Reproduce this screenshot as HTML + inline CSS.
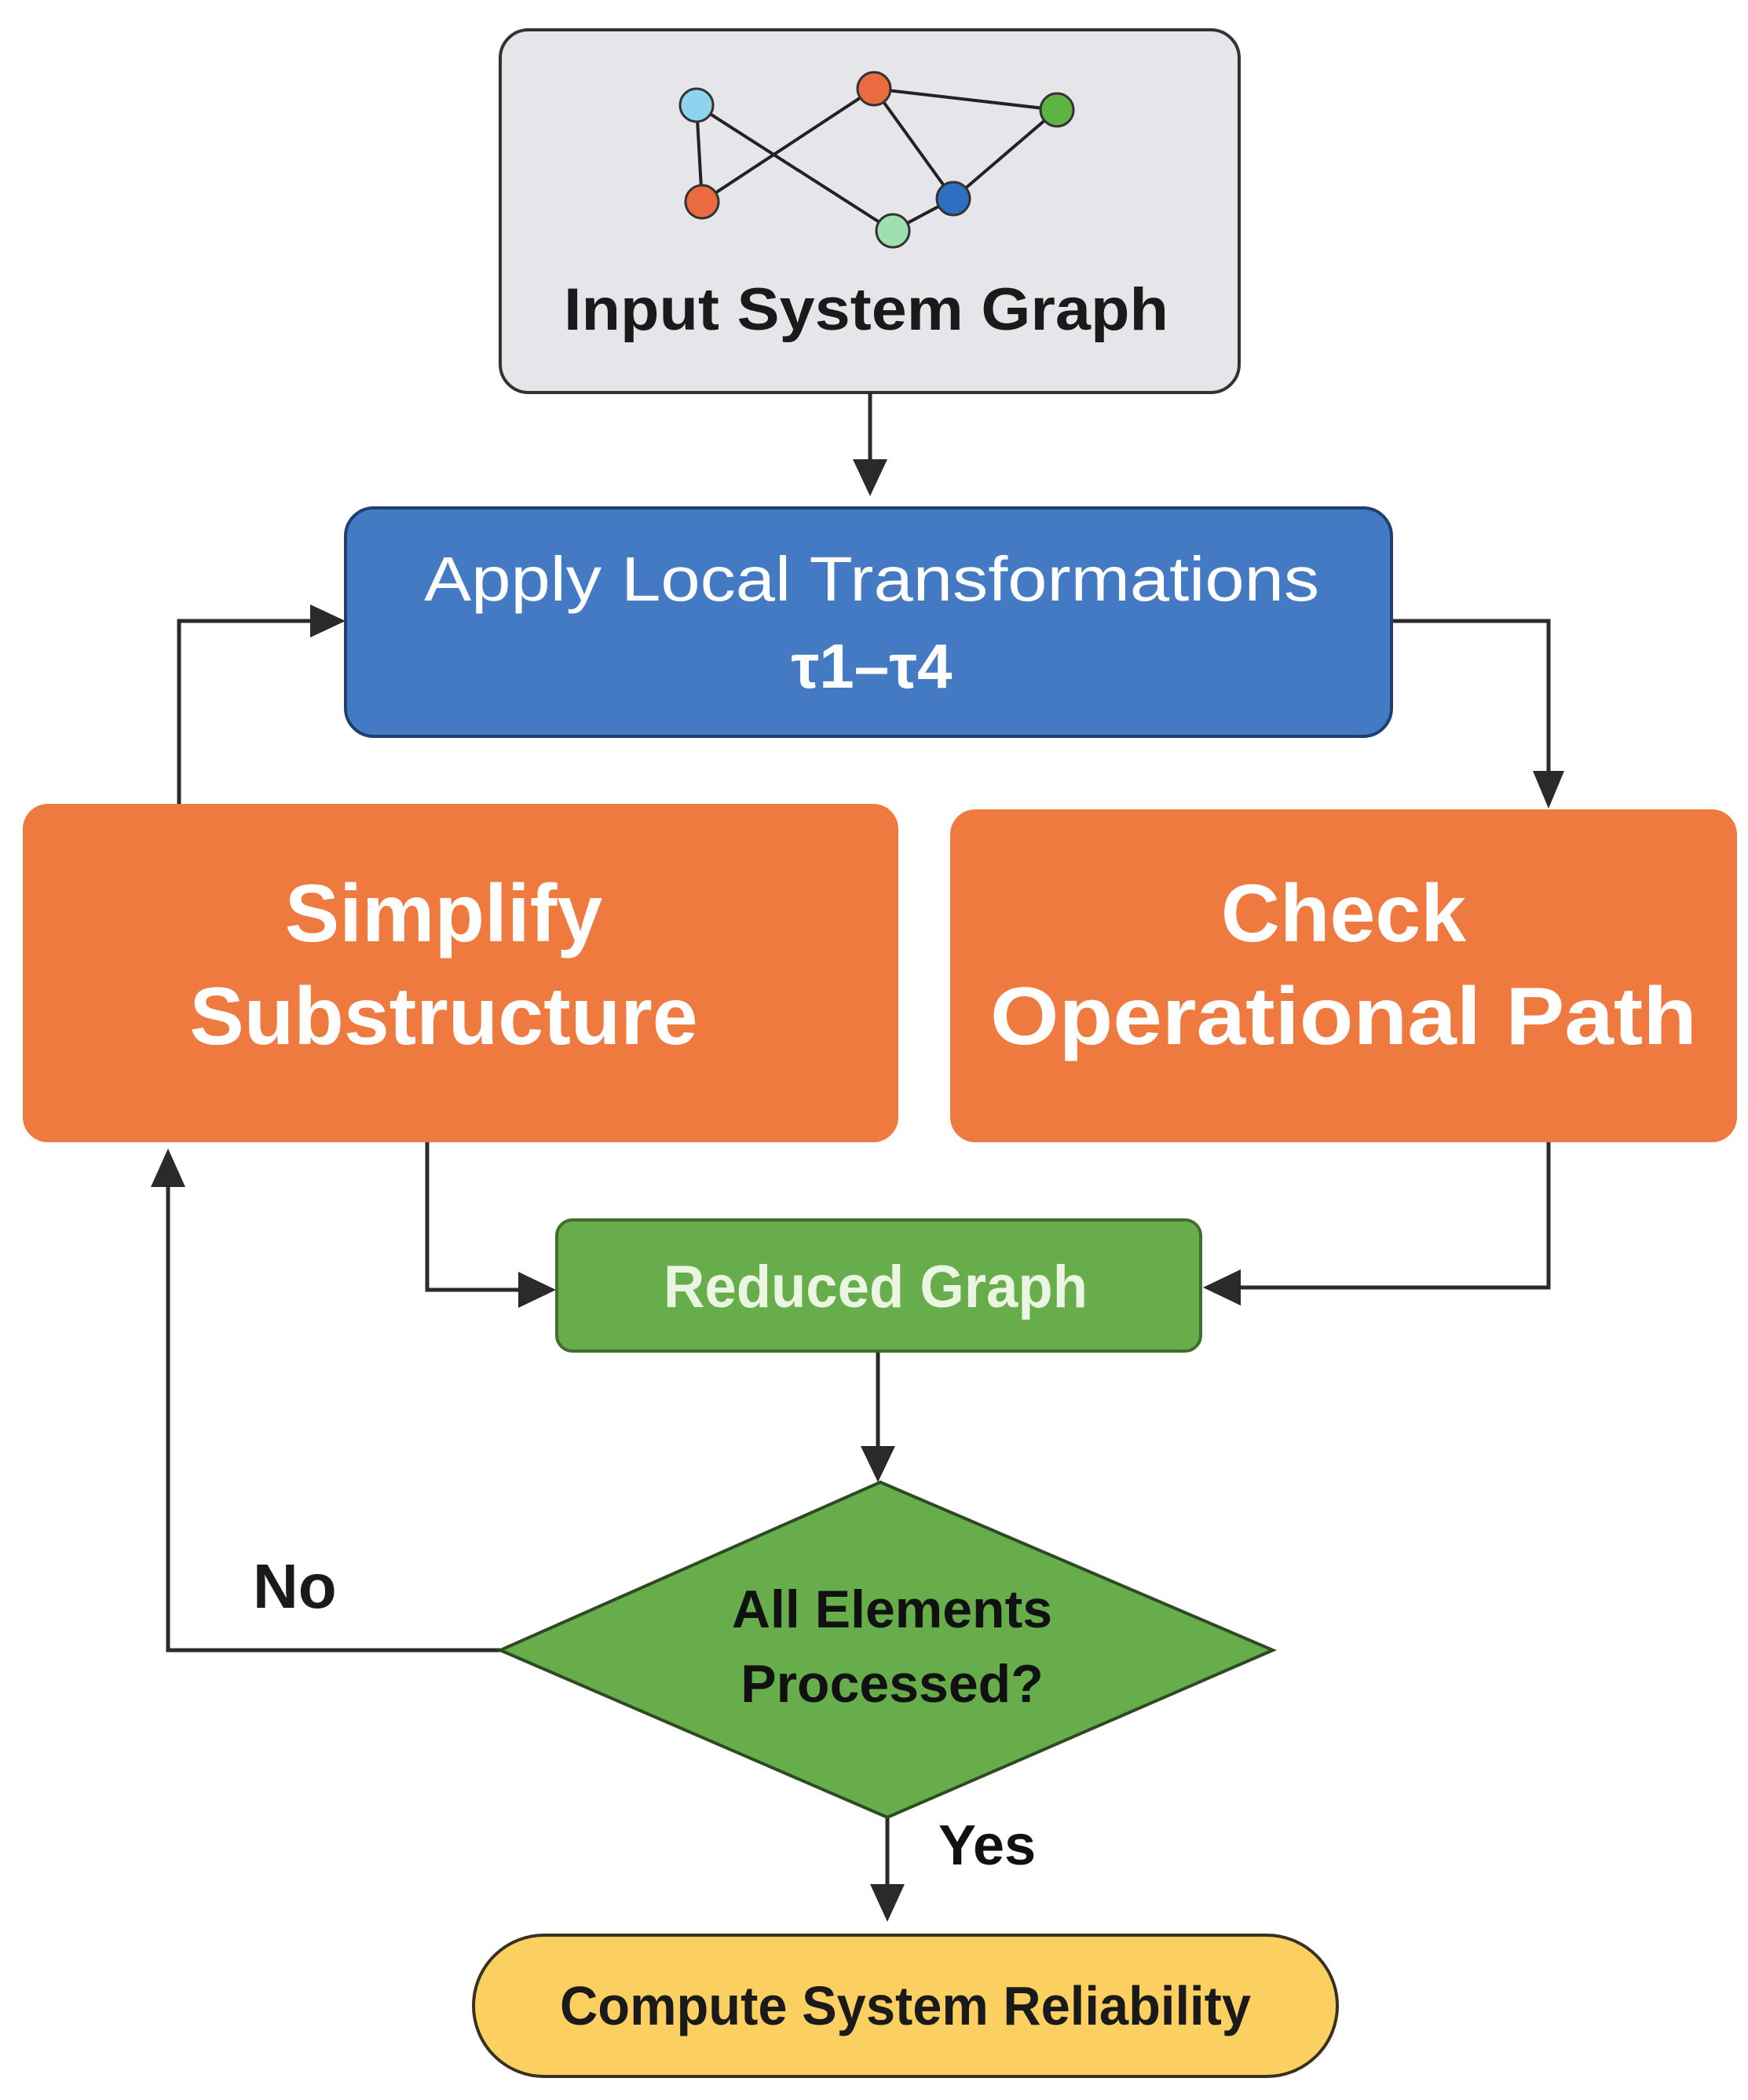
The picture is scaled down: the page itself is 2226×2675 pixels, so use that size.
<!DOCTYPE html>
<html><head><meta charset="utf-8"><style>
html,body{margin:0;padding:0;background:#fff;}
svg{display:block;}
text{font-family:"Liberation Sans",sans-serif;}
</style></head><body>
<svg width="2226" height="2675" viewBox="0 0 2226 2675" xmlns="http://www.w3.org/2000/svg">
<defs>
<marker id="ah" markerWidth="10" markerHeight="10" refX="9" refY="5" orient="auto" markerUnits="userSpaceOnUse" viewBox="0 0 10 10" >
</marker>
</defs>
<!-- Input box -->
<rect x="637" y="38" width="941" height="462" rx="36" fill="#e5e5ea" stroke="#333" stroke-width="4"/>
<g stroke="#222" stroke-width="4">
<line x1="887" y1="134" x2="894" y2="257"/>
<line x1="887" y1="134" x2="1137" y2="294"/>
<line x1="894" y1="257" x2="1113" y2="113"/>
<line x1="1113" y1="113" x2="1346" y2="140"/>
<line x1="1113" y1="113" x2="1214" y2="253"/>
<line x1="1214" y1="253" x2="1346" y2="140"/>
<line x1="1137" y1="294" x2="1214" y2="253"/>
</g>
<g stroke="#333" stroke-width="3">
<circle cx="887" cy="134" r="21" fill="#8fd4ef"/>
<circle cx="1113" cy="113" r="21" fill="#ec6a40"/>
<circle cx="1346" cy="140" r="21" fill="#5cb543"/>
<circle cx="894" cy="257" r="21" fill="#ec6a40"/>
<circle cx="1214" cy="253" r="21" fill="#2f6fc1"/>
<circle cx="1137" cy="294" r="21" fill="#9ee0b0"/>
</g>
<text x="1103" y="420" text-anchor="middle" font-size="76" font-weight="bold" fill="#1a1a1a" textLength="770" lengthAdjust="spacingAndGlyphs">Input System Graph</text>

<!-- connectors -->
<g stroke="#2a2a2a" stroke-width="5" fill="none">
<line x1="1108" y1="500" x2="1108" y2="590"/>
<polyline points="228,1024 228,791 400,791"/>
<polyline points="1772,791 1972,791 1972,985"/>
<polyline points="544,1455 544,1643 665,1643"/>
<polyline points="1972,1455 1972,1640 1575,1640"/>
<line x1="1118" y1="1721" x2="1118" y2="1845"/>
<polyline points="637,2102 214,2102 214,1510"/>
<line x1="1130" y1="2315" x2="1130" y2="2405"/>
</g>
<g fill="#2a2a2a">
<polygon points="1086,585 1130,585 1108,632"/>
<polygon points="395,770 395,812 440,791"/>
<polygon points="1952,982 1992,982 1972,1030"/>
<polygon points="660,1620 660,1666 708,1643"/>
<polygon points="1580,1617 1580,1663 1532,1640"/>
<polygon points="1096,1842 1140,1842 1118,1888"/>
<polygon points="192,1512 236,1512 214,1463"/>
<polygon points="1108,2400 1152,2400 1130,2448"/>
</g>

<!-- Blue box -->
<rect x="440" y="647" width="1332" height="291" rx="36" fill="#4479c4" stroke="#1f3f70" stroke-width="4"/>
<text x="1110" y="765" text-anchor="middle" font-size="80" fill="#fff" textLength="1140" lengthAdjust="spacingAndGlyphs">Apply Local Transformations</text>
<text x="1110" y="876" text-anchor="middle" font-size="80" font-weight="bold" fill="#fff">τ1–τ4</text>

<!-- Orange boxes -->
<rect x="29" y="1024" width="1115" height="431" rx="32" fill="#ef7a3f"/>
<rect x="1210" y="1031" width="1002" height="424" rx="32" fill="#ef7a3f"/>
<g font-size="104" font-weight="bold" fill="#fff" text-anchor="middle">
<text x="565" y="1199">Simplify</text>
<text x="565" y="1330">Substructure</text>
<text x="1711" y="1199">Check</text>
<text x="1711" y="1330" textLength="900" lengthAdjust="spacingAndGlyphs">Operational Path</text>
</g>

<!-- Reduced graph -->
<rect x="709" y="1554" width="820" height="167" rx="20" fill="#67ad4b" stroke="#3f6e2e" stroke-width="4"/>
<text x="1115" y="1665" text-anchor="middle" font-size="76" font-weight="bold" fill="#eaf6e2" textLength="540" lengthAdjust="spacingAndGlyphs">Reduced Graph</text>

<!-- Diamond -->
<polygon points="1121,1888 1621,2102 1130,2315 637,2102" fill="#67ad4b" stroke="#2e4a22" stroke-width="4"/>
<g font-size="68" font-weight="bold" fill="#111" text-anchor="middle">
<text x="1136" y="2073">All Elements</text>
<text x="1136" y="2168">Processed?</text>
</g>
<text x="322" y="2048" font-size="80" font-weight="bold" fill="#1a1a1a">No</text>
<text x="1195" y="2375" font-size="72" font-weight="bold" fill="#111">Yes</text>

<!-- Compute -->
<rect x="603" y="2465" width="1100" height="180" rx="90" fill="#fcd060" stroke="#3a3020" stroke-width="4"/>
<text x="1153" y="2579" text-anchor="middle" font-size="70" font-weight="bold" fill="#1a1a1a" textLength="880" lengthAdjust="spacingAndGlyphs">Compute System Reliability</text>
</svg>
</body></html>
